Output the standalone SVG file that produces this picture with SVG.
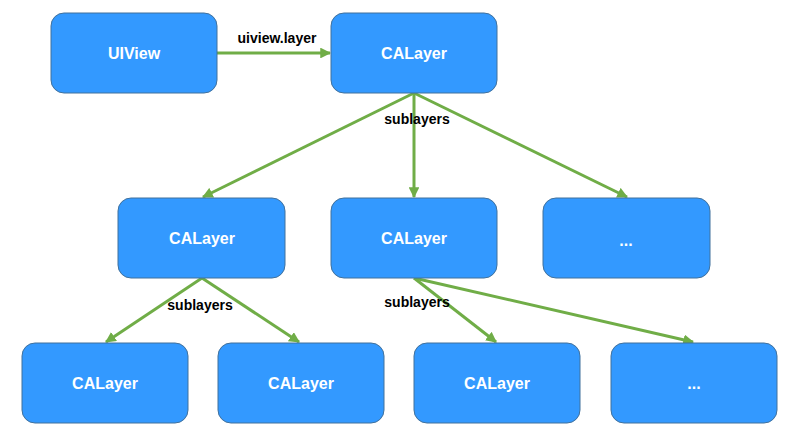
<svg xmlns="http://www.w3.org/2000/svg" width="800" height="439" viewBox="0 0 800 439">
<defs>
<style>
.box{fill:#3399ff;stroke:#41719c;stroke-width:1}
.lbl{font-family:"Liberation Sans",Arial,sans-serif;font-weight:bold;font-size:16px;fill:#ffffff;text-anchor:middle;dominant-baseline:central}
.edge{stroke:#70ad47;stroke-width:3;fill:none;marker-end:url(#ah)}
.elbl{font-family:"Liberation Sans",Arial,sans-serif;font-weight:bold;font-size:14px;fill:#000000;text-anchor:middle;dominant-baseline:central}
</style>
<marker id="ah" viewBox="0 0 10 10" refX="9" refY="5" markerWidth="3.6" markerHeight="3.6" orient="auto" markerUnits="strokeWidth">
<path d="M0,0 L10,5 L0,10 z" fill="#70ad47"/>
</marker>
</defs>
<rect width="800" height="439" fill="#ffffff"/>
<g id="connectors">
<line class="edge" x1="217" y1="53" x2="330" y2="53"/>
<line class="edge" x1="414" y1="93" x2="203" y2="197"/>
<line class="edge" x1="414" y1="93" x2="414" y2="197"/>
<line class="edge" x1="414" y1="93" x2="627" y2="197"/>
<line class="edge" x1="202" y1="278" x2="106" y2="342"/>
<line class="edge" x1="202" y1="278" x2="299" y2="342"/>
<line class="edge" x1="414" y1="278" x2="496" y2="342"/>
<line class="edge" x1="414" y1="278" x2="693" y2="342"/>
<text class="elbl" x="277" y="38">uiview.layer</text>
<text class="elbl" x="417" y="119">sublayers</text>
<text class="elbl" x="200" y="305">sublayers</text>
<text class="elbl" x="417" y="302">sublayers</text>
</g>
<g id="uiview"><rect class="box" x="51" y="13" width="166" height="80" rx="13"/><text class="lbl" x="134" y="53">UIView</text></g>
<g id="calayer-root"><rect class="box" x="331" y="13" width="166" height="80" rx="13"/><text class="lbl" x="414" y="53">CALayer</text></g>
<g id="calayer-2a"><rect class="box" x="118" y="198" width="167" height="80" rx="13"/><text class="lbl" x="202" y="238">CALayer</text></g>
<g id="calayer-2b"><rect class="box" x="331" y="198" width="166" height="80" rx="13"/><text class="lbl" x="414" y="238">CALayer</text></g>
<g id="more-2c"><rect class="box" x="543" y="198" width="167" height="80" rx="13"/><text class="lbl" x="626" y="240">...</text></g>
<g id="calayer-3a"><rect class="box" x="22" y="343" width="166" height="80" rx="13"/><text class="lbl" x="105" y="383">CALayer</text></g>
<g id="calayer-3b"><rect class="box" x="218" y="343" width="166" height="80" rx="13"/><text class="lbl" x="301" y="383">CALayer</text></g>
<g id="calayer-3c"><rect class="box" x="414" y="343" width="166" height="80" rx="13"/><text class="lbl" x="497" y="383">CALayer</text></g>
<g id="more-3d"><rect class="box" x="611" y="343" width="166" height="80" rx="13"/><text class="lbl" x="694" y="383">...</text></g>
</svg>
